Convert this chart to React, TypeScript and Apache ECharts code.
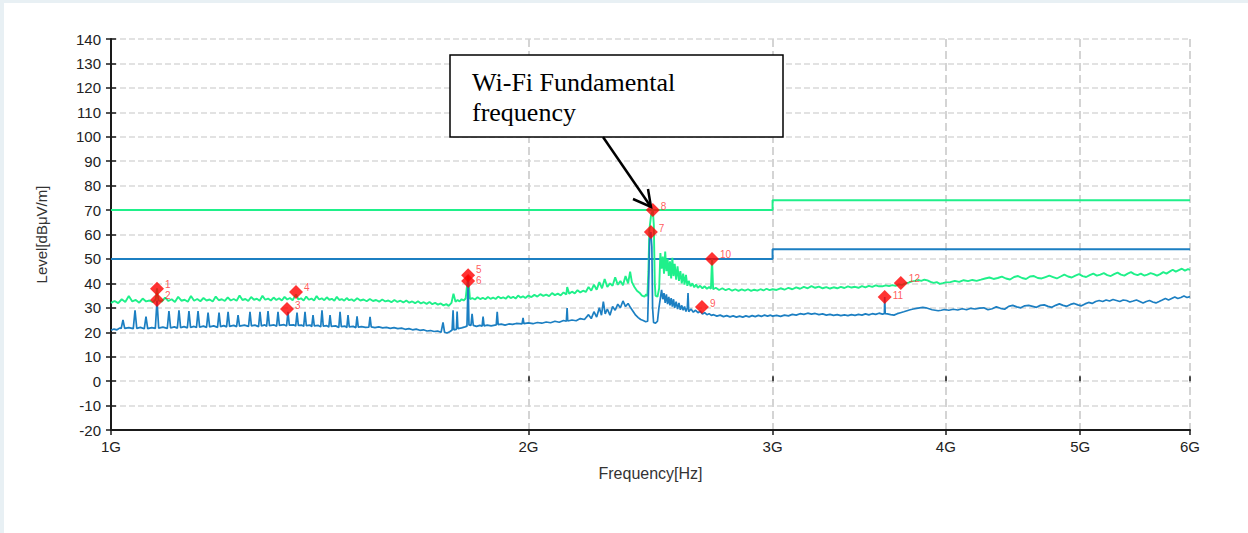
import React, { useEffect, useRef } from "react";
import * as echarts from "echarts";

// ---------- data (frequency in GHz, level in dBμV/m) ----------
const xTickValues = [1, 2, 3, 4, 5, 6];
const yMin = -20;
const yMax = 140;
const yStep = 10;

const peakLimit: [number, number][] = [[1, 70], [3, 70], [3, 74], [6, 74]];
const avgLimit: [number, number][] = [[1, 50], [3, 50], [3, 54], [6, 54]];

const markerIds = ["1", "2", "3", "4", "5", "6", "7", "8", "9", "10", "11", "12"];
const markerFreq = [1.0794, 1.0794, 1.3394, 1.3596, 1.8094, 1.8094, 2.451, 2.459, 2.668, 2.713, 3.614, 3.712];
const markerLevel = [37.8, 33.2, 29.5, 36.5, 43.3, 41.0, 61.0, 70.0, 30.3, 50.0, 34.4, 40.2];

const peakTrace: [number, number][] = [
  [1.000, 32.0], [1.006, 32.8], [1.012, 31.9], [1.018, 33.5], [1.024, 32.4], [1.030, 34.8], [1.036, 32.6],
  [1.042, 33.2], [1.048, 32.1], [1.054, 33.8], [1.060, 32.6], [1.066, 33.0], [1.072, 32.3], [1.077, 33.4],
  [1.0794, 38.0], [1.082, 33.0], [1.088, 32.5], [1.094, 34.2], [1.100, 32.8], [1.106, 33.5], [1.112, 32.4],
  [1.118, 34.5], [1.124, 32.9], [1.130, 33.3], [1.136, 32.5], [1.142, 34.8], [1.148, 32.9], [1.154, 33.6],
  [1.160, 32.7], [1.166, 34.0], [1.172, 33.0], [1.178, 33.4], [1.184, 32.6], [1.190, 34.6], [1.196, 33.1],
  [1.202, 33.5], [1.208, 32.8], [1.214, 34.3], [1.220, 33.0], [1.226, 33.6], [1.232, 32.9], [1.238, 35.0],
  [1.244, 33.2], [1.250, 33.6], [1.256, 32.8], [1.262, 34.4], [1.268, 33.3], [1.274, 33.7], [1.280, 32.9],
  [1.286, 34.9], [1.292, 33.3], [1.298, 33.8], [1.304, 33.0], [1.310, 34.2], [1.316, 33.2], [1.322, 33.9],
  [1.328, 33.0], [1.334, 34.5], [1.340, 33.4], [1.346, 34.0], [1.352, 33.1], [1.3596, 35.5], [1.365, 33.4],
  [1.371, 33.9], [1.377, 33.0], [1.383, 34.6], [1.389, 33.3], [1.395, 33.8], [1.401, 33.0], [1.407, 34.8],
  [1.413, 33.4], [1.419, 33.9], [1.425, 33.1], [1.431, 34.3], [1.437, 33.3], [1.443, 33.7], [1.449, 32.9],
  [1.455, 34.5], [1.461, 33.2], [1.467, 33.6], [1.473, 32.9], [1.479, 34.0], [1.485, 33.1], [1.491, 33.5],
  [1.497, 32.8], [1.505, 33.9], [1.513, 33.0], [1.521, 33.4], [1.529, 32.7], [1.537, 33.6], [1.545, 32.8],
  [1.553, 33.2], [1.561, 32.5], [1.569, 33.4], [1.577, 32.6], [1.585, 33.0], [1.593, 32.3], [1.601, 33.2],
  [1.609, 32.4], [1.617, 32.9], [1.625, 32.2], [1.633, 33.0], [1.641, 32.1], [1.649, 32.6], [1.657, 31.9],
  [1.665, 32.7], [1.673, 31.8], [1.681, 32.3], [1.689, 31.6], [1.697, 32.4], [1.705, 31.5], [1.713, 32.0],
  [1.721, 31.3], [1.729, 31.8], [1.737, 31.0], [1.745, 31.5], [1.752, 30.8], [1.760, 32.0], [1.766, 35.8],
  [1.772, 32.5], [1.778, 33.2], [1.784, 32.6], [1.790, 33.5], [1.796, 33.0], [1.802, 33.8], [1.8094, 43.0],
  [1.815, 33.6], [1.822, 34.0], [1.830, 33.4], [1.838, 34.3], [1.846, 33.6], [1.854, 34.1], [1.862, 33.5],
  [1.870, 34.4], [1.878, 33.7], [1.886, 34.2], [1.894, 33.6], [1.902, 34.6], [1.910, 33.9], [1.918, 34.3],
  [1.926, 33.7], [1.934, 34.8], [1.942, 34.0], [1.950, 34.5], [1.958, 33.8], [1.966, 35.0], [1.974, 34.2],
  [1.982, 34.7], [1.990, 34.0], [2.000, 35.0], [2.010, 34.4], [2.020, 35.3], [2.030, 34.6], [2.040, 35.6],
  [2.050, 34.9], [2.060, 35.4], [2.070, 34.8], [2.080, 36.0], [2.090, 35.2], [2.100, 35.8], [2.110, 35.1],
  [2.120, 36.3], [2.130, 35.5], [2.133, 38.5], [2.140, 35.8], [2.150, 36.6], [2.160, 35.9], [2.170, 37.2],
  [2.180, 36.3], [2.190, 37.0], [2.200, 36.5], [2.210, 38.5], [2.220, 37.0], [2.230, 39.5], [2.240, 37.4],
  [2.250, 40.5], [2.260, 38.0], [2.270, 41.8], [2.280, 38.5], [2.290, 40.0], [2.300, 39.0], [2.310, 42.5],
  [2.320, 39.4], [2.330, 41.0], [2.340, 39.2], [2.350, 43.0], [2.360, 40.0], [2.368, 44.8], [2.375, 40.5],
  [2.385, 38.5], [2.395, 37.0], [2.405, 36.2], [2.415, 35.0], [2.425, 34.6], [2.432, 35.5], [2.437, 34.8],
  [2.441, 45.0], [2.445, 62.0], [2.452, 68.0], [2.459, 70.0], [2.463, 64.0], [2.467, 40.0], [2.470, 35.0],
  [2.478, 34.5], [2.485, 38.0], [2.490, 52.4], [2.495, 46.0], [2.500, 51.0], [2.505, 44.0], [2.510, 53.0],
  [2.515, 45.0], [2.520, 50.0], [2.525, 43.0], [2.530, 49.0], [2.535, 42.0], [2.540, 50.5], [2.545, 43.0],
  [2.550, 48.0], [2.556, 41.5], [2.562, 47.0], [2.568, 41.0], [2.574, 45.0], [2.580, 40.0], [2.586, 44.0],
  [2.592, 39.5], [2.598, 43.5], [2.604, 39.0], [2.610, 41.0], [2.618, 38.8], [2.626, 40.0], [2.634, 38.4],
  [2.642, 39.5], [2.650, 38.2], [2.660, 39.0], [2.670, 38.0], [2.680, 38.8], [2.690, 37.8], [2.700, 38.5],
  [2.708, 37.8], [2.713, 50.0], [2.718, 37.6], [2.730, 38.2], [2.745, 37.3], [2.760, 38.0], [2.775, 37.2],
  [2.790, 37.8], [2.805, 37.0], [2.820, 37.6], [2.835, 36.9], [2.850, 37.5], [2.865, 37.0], [2.880, 37.6],
  [2.895, 36.9], [2.910, 37.4], [2.925, 37.0], [2.940, 37.6], [2.955, 37.1], [2.970, 37.8], [2.985, 37.2],
  [3.000, 37.6], [3.02, 37.3], [3.04, 38.0], [3.06, 37.4], [3.08, 38.2], [3.10, 37.6], [3.12, 38.4],
  [3.14, 37.8], [3.16, 38.6], [3.18, 38.0], [3.20, 38.9], [3.22, 38.2], [3.24, 38.7], [3.26, 38.0],
  [3.28, 38.5], [3.30, 37.9], [3.32, 38.4], [3.34, 38.0], [3.36, 38.6], [3.38, 38.1], [3.40, 38.8],
  [3.42, 38.3], [3.44, 38.6], [3.46, 38.2], [3.48, 38.9], [3.50, 38.4], [3.52, 39.0], [3.54, 38.6],
  [3.56, 39.2], [3.58, 38.8], [3.60, 38.8], [3.62, 39.2], [3.64, 38.9], [3.66, 39.3], [3.68, 39.0],
  [3.70, 39.6], [3.72, 39.4], [3.74, 40.0], [3.76, 40.3], [3.78, 40.8], [3.80, 41.0], [3.82, 41.4],
  [3.84, 41.0], [3.86, 41.5], [3.88, 41.2], [3.90, 40.6], [3.92, 40.2], [3.94, 40.5], [3.96, 39.8],
  [3.98, 40.1], [4.00, 40.4], [4.03, 40.5], [4.06, 41.0], [4.09, 40.6], [4.12, 41.3], [4.15, 40.9],
  [4.18, 41.4], [4.21, 41.0], [4.24, 41.5], [4.27, 42.0], [4.30, 42.4], [4.33, 41.8], [4.36, 42.2],
  [4.39, 42.8], [4.42, 42.0], [4.45, 41.6], [4.48, 42.6], [4.51, 43.0], [4.54, 42.2], [4.57, 41.8],
  [4.60, 42.8], [4.63, 43.0], [4.66, 42.2], [4.69, 42.0], [4.72, 42.6], [4.75, 43.2], [4.78, 42.6],
  [4.81, 42.0], [4.84, 42.8], [4.87, 43.6], [4.90, 42.8], [4.93, 42.4], [4.96, 43.2], [4.99, 43.8],
  [5.02, 43.0], [5.05, 42.6], [5.08, 43.4], [5.11, 44.0], [5.14, 43.2], [5.17, 43.6], [5.20, 44.2],
  [5.23, 43.4], [5.26, 43.0], [5.29, 43.8], [5.32, 44.4], [5.35, 43.6], [5.38, 43.2], [5.41, 44.0],
  [5.44, 44.6], [5.47, 43.8], [5.50, 43.4], [5.53, 44.0], [5.56, 43.2], [5.59, 43.6], [5.62, 44.2],
  [5.65, 43.8], [5.68, 43.2], [5.71, 43.8], [5.74, 44.6], [5.77, 44.0], [5.80, 44.8], [5.83, 45.6],
  [5.86, 44.8], [5.89, 45.4], [5.92, 46.0], [5.95, 45.2], [5.98, 45.8], [6.00, 45.5],
];

const avgTrace: [number, number][] = [
  [1.000, 20.8], [1.005, 21.3], [1.010, 21.0], [1.015, 21.8], [1.017, 21.5], [1.0201, 25.0], [1.023, 21.6],
  [1.030, 21.9], [1.0377, 21.5], [1.0407, 29.0], [1.0437, 21.6], [1.050, 22.0], [1.0568, 21.4], [1.0598, 26.4],
  [1.0628, 21.5], [1.070, 21.9], [1.0764, 21.6], [1.0794, 33.0], [1.0824, 21.7], [1.090, 22.1], [1.098, 21.6],
  [1.1010, 28.7], [1.104, 21.8], [1.111, 22.2], [1.1165, 21.7], [1.1195, 29.0], [1.1225, 21.9], [1.129, 22.3],
  [1.1352, 21.8], [1.1382, 28.7], [1.1412, 22.0], [1.148, 22.4], [1.1525, 21.9], [1.1555, 28.7], [1.1585, 22.1],
  [1.166, 22.5], [1.1719, 22.0], [1.1749, 28.0], [1.1779, 22.2], [1.186, 22.6], [1.1935, 22.0], [1.1965, 28.0],
  [1.1995, 22.3], [1.206, 22.7], [1.2116, 22.2], [1.2146, 28.4], [1.2176, 22.4], [1.226, 22.8], [1.2319, 22.3],
  [1.2349, 27.0], [1.2379, 22.5], [1.248, 22.9], [1.2566, 22.4], [1.2596, 28.4], [1.2626, 22.6], [1.270, 22.9],
  [1.2777, 22.3], [1.2807, 28.4], [1.2837, 22.6], [1.291, 23.0], [1.2949, 22.4], [1.2979, 28.7], [1.3009, 22.7],
  [1.311, 23.0], [1.3166, 22.5], [1.3196, 28.4], [1.3226, 22.8], [1.333, 23.1], [1.3386, 22.6], [1.3416, 28.4],
  [1.3446, 22.9], [1.355, 23.0], [1.3589, 22.5], [1.3619, 28.0], [1.3649, 22.8], [1.373, 22.9], [1.3771, 22.4],
  [1.3801, 28.4], [1.3831, 22.7], [1.392, 22.9], [1.3956, 22.3], [1.3986, 27.0], [1.4016, 22.6], [1.411, 22.8],
  [1.4166, 22.2], [1.4196, 29.0], [1.4226, 22.5], [1.431, 22.7], [1.4357, 22.1], [1.4387, 27.0], [1.4417, 22.4],
  [1.452, 22.6], [1.4598, 22.0], [1.4628, 28.4], [1.4658, 22.3], [1.475, 22.5], [1.4793, 21.9], [1.4823, 27.0],
  [1.4853, 22.2], [1.495, 22.4], [1.5017, 21.9], [1.5047, 26.5], [1.5077, 22.1], [1.516, 22.3], [1.526, 22.0],
  [1.5345, 22.1], [1.5375, 26.3], [1.5405, 22.2], [1.550, 21.9], [1.560, 22.2], [1.570, 21.8], [1.580, 22.0],
  [1.590, 21.6], [1.600, 21.9], [1.610, 21.5], [1.620, 21.7], [1.630, 21.2], [1.640, 21.5], [1.650, 21.0],
  [1.660, 21.3], [1.670, 20.8], [1.680, 21.0], [1.690, 20.5], [1.700, 20.7], [1.710, 20.3], [1.720, 20.5],
  [1.730, 20.0], [1.7356, 24.0], [1.740, 20.0], [1.747, 19.7], [1.755, 20.2], [1.762, 20.9], [1.7648, 29.0],
  [1.767, 21.0], [1.7745, 21.2], [1.7767, 28.5], [1.779, 21.5], [1.790, 21.8], [1.800, 22.2], [1.806, 22.5],
  [1.8094, 41.0], [1.812, 23.0], [1.818, 22.8], [1.8214, 27.5], [1.825, 22.8], [1.835, 22.4], [1.845, 22.8],
  [1.852, 22.5], [1.855, 26.4], [1.858, 22.6], [1.868, 22.9], [1.880, 22.6], [1.896, 23.0], [1.899, 28.4],
  [1.902, 23.1], [1.912, 23.3], [1.924, 22.9], [1.936, 23.4], [1.948, 23.2], [1.960, 23.6], [1.979, 23.4],
  [1.9823, 25.9], [1.985, 23.5], [2.000, 23.8], [2.015, 23.5], [2.030, 24.0], [2.045, 23.7], [2.060, 24.2],
  [2.075, 23.9], [2.090, 24.5], [2.105, 24.1], [2.120, 24.8], [2.130, 24.5], [2.1327, 29.9], [2.135, 24.6],
  [2.150, 25.0], [2.165, 24.7], [2.180, 25.6], [2.195, 25.2], [2.210, 27.2], [2.220, 25.6], [2.230, 28.4],
  [2.240, 26.2], [2.250, 30.0], [2.258, 27.0], [2.265, 32.5], [2.272, 27.5], [2.280, 29.5], [2.290, 27.0],
  [2.300, 30.5], [2.310, 29.0], [2.320, 31.5], [2.330, 30.0], [2.340, 32.8], [2.350, 30.5], [2.360, 31.8],
  [2.370, 30.0], [2.380, 28.5], [2.390, 27.0], [2.400, 26.0], [2.410, 25.2], [2.420, 24.8], [2.430, 24.3],
  [2.438, 24.5], [2.442, 40.0], [2.446, 58.0], [2.451, 61.0], [2.455, 55.0], [2.458, 30.0], [2.462, 24.0],
  [2.470, 23.7], [2.478, 24.5], [2.484, 30.0], [2.490, 34.0], [2.495, 37.3], [2.500, 33.5], [2.505, 36.0],
  [2.510, 32.0], [2.515, 35.5], [2.520, 31.5], [2.525, 34.5], [2.530, 31.0], [2.535, 34.0], [2.540, 30.5],
  [2.545, 33.5], [2.550, 30.0], [2.556, 32.5], [2.562, 29.5], [2.568, 32.0], [2.574, 29.2], [2.580, 31.0],
  [2.586, 29.0], [2.592, 30.5], [2.598, 28.5], [2.604, 30.0], [2.607, 36.0], [2.610, 28.4], [2.620, 29.5],
  [2.630, 28.2], [2.640, 29.0], [2.650, 28.0], [2.660, 28.6], [2.670, 27.5], [2.680, 28.0], [2.690, 27.2],
  [2.700, 27.6], [2.710, 26.9], [2.720, 27.2], [2.735, 26.6], [2.750, 27.0], [2.765, 26.4], [2.780, 26.8],
  [2.795, 26.3], [2.810, 26.7], [2.825, 26.2], [2.840, 26.6], [2.855, 26.2], [2.870, 26.7], [2.885, 26.3],
  [2.900, 26.8], [2.915, 26.4], [2.930, 26.9], [2.945, 26.5], [2.960, 27.0], [2.975, 26.6], [2.990, 27.0],
  [3.00, 26.6], [3.02, 26.9], [3.04, 26.5], [3.06, 27.0], [3.08, 26.7], [3.10, 27.3], [3.12, 27.0],
  [3.14, 27.6], [3.16, 27.3], [3.18, 27.8], [3.20, 27.4], [3.22, 27.7], [3.24, 27.2], [3.26, 27.5],
  [3.28, 27.0], [3.30, 27.3], [3.32, 26.9], [3.34, 27.2], [3.36, 26.8], [3.38, 27.1], [3.40, 26.8],
  [3.42, 27.2], [3.44, 26.9], [3.46, 27.3], [3.48, 27.0], [3.50, 27.5], [3.52, 27.1], [3.54, 27.6],
  [3.56, 27.3], [3.58, 27.8], [3.60, 27.4], [3.612, 27.6], [3.614, 34.4], [3.617, 27.6], [3.63, 27.5],
  [3.65, 27.2], [3.67, 27.0], [3.69, 27.6], [3.71, 28.0], [3.73, 28.4], [3.75, 28.8], [3.77, 29.2],
  [3.79, 29.5], [3.81, 29.8], [3.83, 30.0], [3.85, 30.2], [3.87, 30.0], [3.89, 29.6], [3.91, 29.2],
  [3.93, 29.0], [3.95, 28.8], [3.97, 29.0], [3.99, 29.3], [4.02, 29.0], [4.05, 29.4], [4.08, 29.1],
  [4.11, 29.6], [4.14, 29.2], [4.17, 29.8], [4.20, 29.5], [4.23, 29.9], [4.26, 30.0], [4.29, 29.2],
  [4.32, 29.6], [4.35, 30.4], [4.38, 29.8], [4.41, 29.4], [4.44, 30.6], [4.47, 31.0], [4.50, 30.4],
  [4.53, 30.0], [4.56, 30.8], [4.59, 31.0], [4.62, 30.6], [4.65, 30.2], [4.68, 31.0], [4.71, 31.2],
  [4.74, 30.6], [4.77, 30.2], [4.80, 31.0], [4.83, 31.6], [4.86, 31.0], [4.89, 30.6], [4.92, 31.4],
  [4.95, 31.8], [4.98, 31.2], [5.01, 30.8], [5.04, 31.6], [5.07, 32.2], [5.10, 31.8], [5.13, 32.6],
  [5.16, 33.0], [5.19, 32.6], [5.22, 33.2], [5.25, 32.8], [5.28, 33.4], [5.31, 33.0], [5.34, 32.6],
  [5.37, 33.2], [5.40, 33.0], [5.43, 32.4], [5.46, 32.8], [5.49, 33.2], [5.52, 32.6], [5.55, 32.0],
  [5.58, 32.6], [5.61, 33.0], [5.64, 32.4], [5.67, 32.0], [5.70, 32.6], [5.73, 33.2], [5.76, 33.8],
  [5.79, 33.2], [5.82, 33.8], [5.85, 34.4], [5.88, 33.8], [5.91, 34.2], [5.94, 34.8], [5.97, 34.2],
  [6.00, 34.6],
];

// ---------- styling ----------
const GREEN = "#1ff08a";
const BLUE = "#1c7fc2";
const AXIS = "#1a1a1a";
const FONT = '"Liberation Sans", Arial, sans-serif';
// per-marker label nudges (5 and 6 sit on top of each other)
const markerLabelOffsets: [number, number][] = [
  [0, -4], [0, -4], [0, -4], [0, -4], [0, -6], [0, 0], [0, -4], [0, -4], [0, -4], [0, -4], [0, -2], [0, -4],
];

export default function App() {
  const ref = useRef<HTMLDivElement>(null);

  useEffect(() => {
    if (!ref.current) return;
    const chart = echarts.init(ref.current, null, { renderer: "svg" });

    const xCommon = {
      type: "log",
      logBase: 10,
      min: 1,
      max: 6,
      position: "bottom",
    };
    const yCommon = {
      type: "value",
      min: yMin,
      max: yMax,
      interval: yStep,
      position: "left",
    };

    chart.setOption({
      animation: false,
      backgroundColor: "#ffffff",
      textStyle: { fontFamily: FONT },
      grid: { left: 111, right: 58, top: 39, bottom: 103, containLabel: false },
      xAxis: [
        {
          ...xCommon,
          name: "Frequency[Hz]",
          nameLocation: "middle",
          nameGap: 35,
          nameTextStyle: { fontSize: 16, color: "#333", fontFamily: FONT },
          axisLine: { show: true, onZero: false, lineStyle: { color: AXIS, width: 2 } },
          axisTick: { show: true, customValues: xTickValues, length: 5, lineStyle: { color: AXIS, width: 1.5 } },
          axisLabel: {
            customValues: xTickValues,
            formatter: (v: number) => Math.round(v) + "G",
            fontSize: 15,
            color: "#222",
            margin: 9,
            fontFamily: FONT,
          },
          splitLine: { show: true, lineStyle: { type: [8, 4], color: "#d4d4d4", width: 2 } },
          minorTick: { show: false },
          minorSplitLine: { show: false },
        },
        {
          ...xCommon,
          axisLine: { show: false },
          axisTick: { show: true, inside: true, customValues: xTickValues, length: 5, lineStyle: { color: AXIS, width: 1.5 } },
          axisLabel: { show: false, customValues: xTickValues },
          splitLine: { show: false },
        },
      ],
      yAxis: [
        {
          ...yCommon,
          name: "Level[dBμV/m]",
          nameLocation: "middle",
          nameGap: 62,
          nameTextStyle: { fontSize: 15, color: "#333", fontFamily: FONT },
          axisLine: { show: true, onZero: false, lineStyle: { color: AXIS, width: 2 } },
          axisTick: { show: true, length: 5, lineStyle: { color: AXIS, width: 1.5 } },
          axisLabel: { fontSize: 15, color: "#222", margin: 10, fontFamily: FONT },
          splitLine: { show: true, lineStyle: { type: [6, 3], color: "#d9d9d9", width: 1.5 } },
        },
        {
          ...yCommon,
          axisLine: { show: false },
          axisTick: { show: true, inside: true, length: 5, lineStyle: { color: AXIS, width: 1.5 } },
          axisLabel: { show: false },
          splitLine: { show: false },
        },
      ],
      series: [
        {
          type: "line",
          name: "Peak limit",
          data: peakLimit,
          showSymbol: false,
          symbol: "none",
          lineStyle: { color: GREEN, width: 2 },
          silent: true,
          z: 2,
        },
        {
          type: "line",
          name: "Average limit",
          data: avgLimit,
          showSymbol: false,
          symbol: "none",
          lineStyle: { color: BLUE, width: 2 },
          silent: true,
          z: 2,
        },
        {
          type: "line",
          name: "Peak",
          data: peakTrace,
          showSymbol: false,
          symbol: "none",
          lineStyle: { color: GREEN, width: 1.9 },
          silent: true,
          z: 3,
        },
        {
          type: "line",
          name: "Average",
          data: avgTrace,
          showSymbol: false,
          symbol: "none",
          lineStyle: { color: BLUE, width: 1.7 },
          silent: true,
          z: 4,
        },
        {
          type: "scatter",
          name: "Markers",
          data: markerFreq.map((f, i) => ({
            value: [f, markerLevel[i]],
            label: { offset: markerLabelOffsets[i] },
          })),
          symbol: "diamond",
          symbolSize: [14, 14],
          itemStyle: { color: "#ff0000" },
          label: {
            show: true,
            position: "right",
            distance: 1,
            formatter: (p: any) => markerIds[p.dataIndex],
            color: "#ff3030",
            fontSize: 10,
            fontFamily: FONT,
          },
          silent: true,
          z: 6,
        },
      ],
      graphic: [
        { type: "rect", shape: { x: 0, y: 0, width: 4, height: 533 }, style: { fill: "#e8f0f4" }, silent: true },
        { type: "rect", shape: { x: 0, y: 0, width: 1248, height: 3 }, style: { fill: "#e8f0f4" }, silent: true },
        {
          type: "rect",
          shape: { x: 450, y: 55, width: 333, height: 82 },
          style: { fill: "#ffffff", stroke: "#000000", lineWidth: 1.5 },
          z: 100,
          silent: true,
        },
        {
          type: "text",
          x: 472,
          y: 67,
          style: {
            text: "Wi-Fi Fundamental\nfrequency",
            fontSize: 26,
            fontFamily: '"Liberation Serif", "Times New Roman", serif',
            lineHeight: 30,
            fill: "#000000",
            verticalAlign: "top",
            align: "left",
          },
          z: 101,
          silent: true,
        },
        {
          type: "line",
          shape: { x1: 603, y1: 137, x2: 651, y2: 207 },
          style: { stroke: "#000000", lineWidth: 2.5 },
          z: 101,
          silent: true,
        },
        {
          type: "polyline",
          shape: { points: [[648, 189], [651, 207], [633, 199]] },
          style: { stroke: "#000000", lineWidth: 2.5, fill: "none" },
          z: 101,
          silent: true,
        },
      ],
    });

    return () => chart.dispose();
  }, []);

  return (
    <div
      ref={ref}
      style={{ position: "fixed", left: 0, top: 0, width: 1248, height: 533 }}
    />
  );
}
